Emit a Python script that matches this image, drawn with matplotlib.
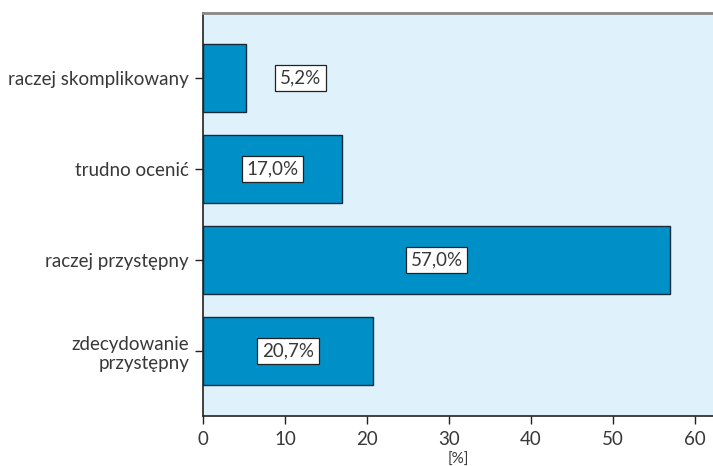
import matplotlib
matplotlib.use("Agg")
import matplotlib.pyplot as plt

# Answer categories, bottom to top
categories = [
    "zdecydowanie\nprzystępny",
    "raczej przystępny",
    "trudno ocenić",
    "raczej skomplikowany",
]
values = [20.7, 57.0, 17.0, 5.2]
labels = ["20,7%", "57,0%", "17,0%", "5,2%"]

x_ticks = [0, 10, 20, 30, 40, 50, 60]

plt.rcParams["font.family"] = ["Lato", "DejaVu Sans"]
text_color = "#383838"

fig = plt.figure(figsize=(7.13, 4.66), dpi=100)
ax = fig.add_axes([203 / 713, 1 - 416 / 466, 510 / 713, 403 / 466])
ax.set_facecolor("#dff1fb")

pos = list(range(len(categories)))
ax.barh(pos, values, height=0.75, color="#0090c8", edgecolor="#1a2a3a", linewidth=1.0, zorder=2)

# value labels in white boxes, the small bar gets its label outside
for y, v, lab in zip(pos, values, labels):
    x = v / 2 if v > 10 else v + 6.7
    ax.text(x, y, lab, ha="center", va="center", fontsize=13.5, color=text_color, zorder=3,
            bbox=dict(boxstyle="square,pad=0.25", facecolor="white", edgecolor="#222222", linewidth=0.9))

ax.set_xlim(0, 62.2)
ax.set_ylim(-0.714, 3.714)
ax.set_xticks(x_ticks)
ax.set_yticks(pos)
ax.set_yticklabels(categories, multialignment="right")
ax.tick_params(axis="both", labelsize=13.5, labelcolor=text_color, direction="out", length=6, width=1.0, color="#222222")
ax.tick_params(axis="y", pad=4)
ax.tick_params(axis="x", pad=5)
ax.set_xlabel("[%]", fontsize=11, color=text_color, labelpad=3)

ax.spines["right"].set_visible(False)
ax.spines["top"].set_color("#888888")
ax.spines["top"].set_linewidth(2.0)
ax.spines["left"].set_color("#222222")
ax.spines["bottom"].set_color("#222222")
ax.spines["left"].set_linewidth(1.2)
ax.spines["bottom"].set_linewidth(1.2)

fig.savefig("out.png", dpi=100)
